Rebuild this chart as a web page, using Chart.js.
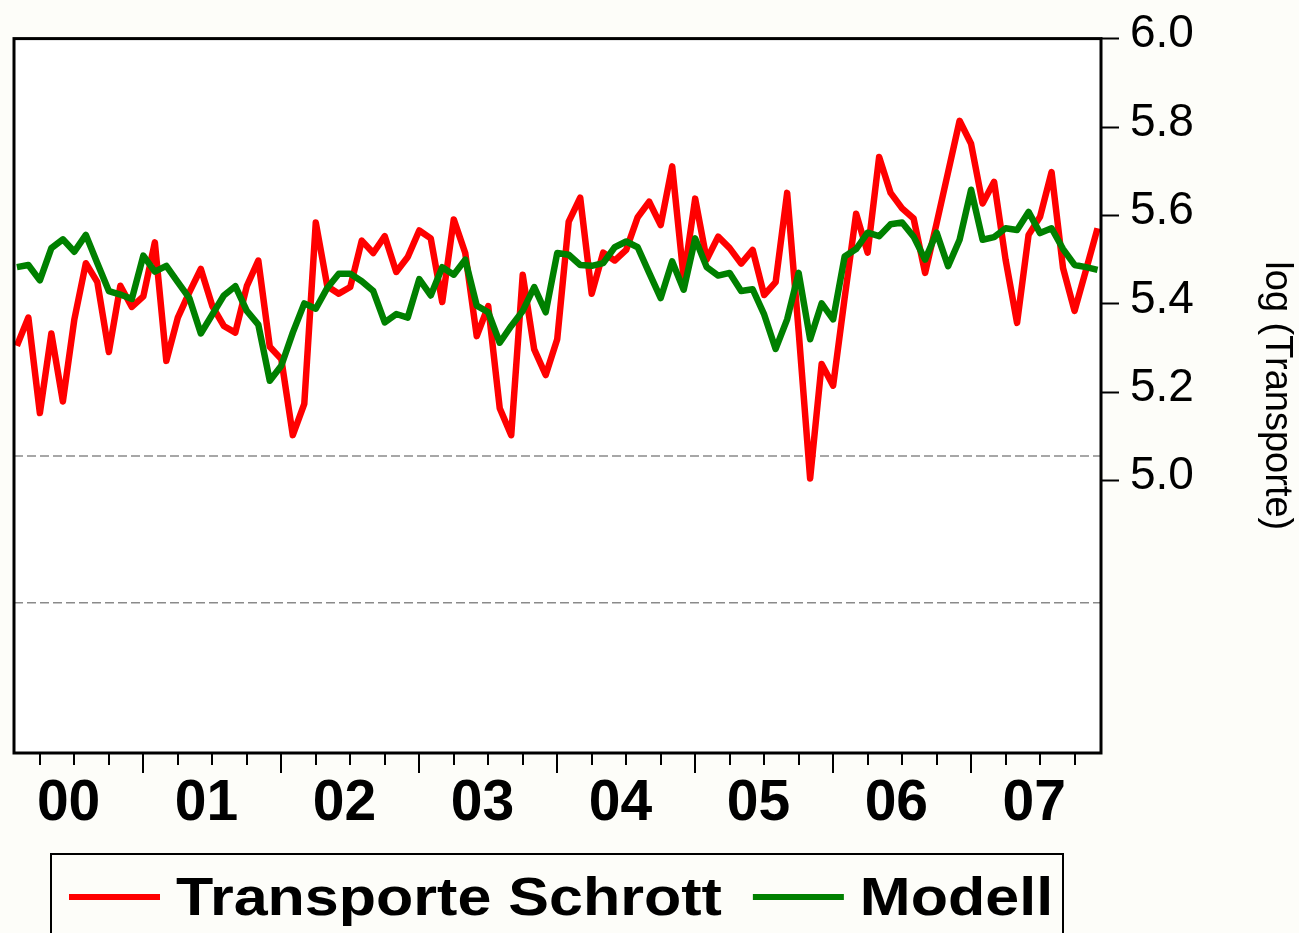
<!DOCTYPE html>
<html>
<head>
<meta charset="utf-8">
<script src="https://cdn.jsdelivr.net/npm/chart.js@4.4.1/dist/chart.umd.min.js"></script>
<style>
  html, body { margin: 0; padding: 0; background: #fdfdf9; }
  #wrap { width: 1299px; height: 933px; }
</style>
</head>
<body>
<div id="wrap"><canvas id="c" width="1299" height="933"></canvas></div>
<script>
// ---- data (monthly, 2000M02 .. 2007M12) ----
const startYear = 2000;
const startMonth = 2;

const transporteSchrott = [
  5.305, 5.369, 5.153, 5.333, 5.179, 5.365, 5.492, 5.449, 5.291, 5.441, 5.393,
  5.417, 5.539, 5.271, 5.369, 5.426, 5.479, 5.395, 5.350, 5.335, 5.440, 5.498, 5.303,
  5.275, 5.103, 5.174, 5.584, 5.440, 5.423, 5.438, 5.543, 5.515, 5.553, 5.472, 5.506,
  5.566, 5.548, 5.404, 5.591, 5.515, 5.327, 5.395, 5.164, 5.103, 5.466, 5.297, 5.239,
  5.320, 5.586, 5.640, 5.423, 5.516, 5.498, 5.522, 5.596, 5.631, 5.578, 5.711, 5.458,
  5.638, 5.500, 5.552, 5.526, 5.491, 5.522, 5.420, 5.449, 5.651, 5.338, 5.005, 5.264,
  5.215, 5.413, 5.604, 5.516, 5.732, 5.651, 5.616, 5.593, 5.470, 5.582, 5.698, 5.814,
  5.762, 5.627, 5.676, 5.500, 5.357, 5.556, 5.597, 5.698, 5.481, 5.384, 5.477, 5.571
];

const modell = [
  5.483, 5.488, 5.453, 5.526, 5.546, 5.518, 5.556, 5.492, 5.429, 5.421, 5.411,
  5.509, 5.473, 5.486, 5.449, 5.413, 5.333, 5.376, 5.419, 5.440, 5.384, 5.353, 5.226,
  5.260, 5.335, 5.401, 5.389, 5.436, 5.468, 5.468, 5.451, 5.429, 5.358, 5.377, 5.369,
  5.456, 5.419, 5.483, 5.466, 5.500, 5.396, 5.381, 5.312, 5.350, 5.384, 5.438, 5.381,
  5.515, 5.511, 5.488, 5.486, 5.492, 5.528, 5.541, 5.528, 5.470, 5.413, 5.496, 5.432,
  5.548, 5.483, 5.464, 5.470, 5.429, 5.433, 5.376, 5.298, 5.365, 5.470, 5.320, 5.401,
  5.365, 5.507, 5.524, 5.561, 5.553, 5.580, 5.584, 5.552, 5.500, 5.561, 5.485, 5.545,
  5.658, 5.545, 5.551, 5.571, 5.567, 5.608, 5.560, 5.571, 5.524, 5.488, 5.483, 5.477
];

const seriesNames = ['Transporte Schrott', 'Modell'];
const seriesColors = ['#ff0000', '#008000'];
const yearLabels = ['00', '01', '02', '03', '04', '05', '06', '07'];
const yTickValues = [5.0, 5.2, 5.4, 5.6, 5.8, 6.0];
const refLevels = [5.056, 4.724];
const yAxisTitle = 'log (Transporte)';
const yMin = 4.384, yMax = 6.0;

// ---- derived helpers ----
const n = transporteSchrott.length;
const xMin = -0.25, xMax = n - 1 + 0.3;
const monthOf = k => (startMonth - 1 + k) % 12 + 1;
// index of January of each labelled year, label sits at the year's centre
const yearCenters = yearLabels.map((_, i) => i * 12 - (startMonth - 1) + 5.5);
const quarterTicks = [];
for (let k = 0; k < n; k++) { if ((monthOf(k) - 1) % 3 === 0) quarterTicks.push(k); }

const toXY = arr => arr.map((v, i) => ({ x: i, y: v }));

const bgPlugin = {
  id: 'bg',
  beforeDraw(chart) {
    const { ctx, chartArea: a } = chart;
    ctx.save();
    ctx.fillStyle = '#fdfdf9';
    ctx.fillRect(0, 0, chart.width, chart.height);
    ctx.fillStyle = '#ffffff';
    ctx.fillRect(a.left, a.top, a.right - a.left, a.bottom - a.top);
    ctx.restore();
  }
};

const framePlugin = {
  id: 'frame',
  afterDatasetsDraw(chart) {
    const { ctx, chartArea: a, scales } = chart;
    ctx.save();
    ctx.strokeStyle = '#000';
    ctx.lineWidth = 3;
    ctx.strokeRect(a.left, a.top, a.right - a.left, a.bottom - a.top);
    // x tick marks: quarters short, years long
    ctx.lineWidth = 2;
    quarterTicks.forEach(k => {
      const px = Math.round(scales.x.getPixelForValue(k));
      const len = monthOf(k) === 1 ? 20 : 12;
      ctx.beginPath();
      ctx.moveTo(px, a.bottom);
      ctx.lineTo(px, a.bottom + len);
      ctx.stroke();
    });
    ctx.restore();
  },
  afterDraw(chart) {
    // legend box
    const { ctx, chartArea: a } = chart;
    const boxL = a.left + 37, boxT = a.bottom + 101, boxR = a.right - 38;
    ctx.save();
    ctx.strokeStyle = '#000';
    ctx.lineWidth = 2;
    ctx.strokeRect(boxL, boxT, boxR - boxL, 200);
    ctx.font = 'bold 54px "Liberation Sans", Arial, sans-serif';
    ctx.textBaseline = 'alphabetic';
    ctx.fillStyle = '#000';
    const stretch = 1.13;
    let x = boxL + 18;
    const yMid = boxT + 43;
    const base = boxT + 61;
    chart.data.datasets.slice(0, 2).forEach(ds => {
      ctx.strokeStyle = ds.borderColor;
      ctx.lineWidth = 6;
      ctx.beginPath();
      ctx.moveTo(x, yMid);
      ctx.lineTo(x + 91, yMid);
      ctx.stroke();
      x += 91 + 16;
      const w = ctx.measureText(ds.label).width * stretch;
      ctx.save();
      ctx.translate(x, base);
      ctx.scale(stretch, 1);
      ctx.fillText(ds.label, 0, 0);
      ctx.restore();
      x += w + 31;
    });
    ctx.restore();
  }
};

const datasets = [
  { label: seriesNames[0], data: toXY(transporteSchrott), borderColor: seriesColors[0],
    borderWidth: 6.5, pointRadius: 0, tension: 0, order: 2, borderJoinStyle: 'round', fill: false },
  { label: seriesNames[1], data: toXY(modell), borderColor: seriesColors[1],
    borderWidth: 6.5, pointRadius: 0, tension: 0, order: 1, borderJoinStyle: 'round', fill: false }
].concat(refLevels.map(v => ({
  label: '', data: [{ x: xMin, y: v }, { x: xMax, y: v }], borderColor: '#8a8a8a',
  borderWidth: 1.5, borderDash: [9, 4], pointRadius: 0, order: 3, fill: false
})));

new Chart(document.getElementById('c'), {
  type: 'line',
  data: { datasets },
  options: {
    responsive: false,
    animation: false,
    devicePixelRatio: 1,
    layout: { padding: { left: 14, top: 34, right: 0, bottom: 0 } },
    plugins: { legend: { display: false }, tooltip: { enabled: false } },
    scales: {
      x: {
        type: 'linear', position: 'bottom', min: xMin, max: xMax,
        afterBuildTicks: s => { s.ticks = yearCenters.map(v => ({ value: v })); },
        afterFit: s => { s.height = 180; },
        grid: { display: false, drawTicks: false },
        border: { display: false },
        ticks: {
          callback: (v, i) => yearLabels[i],
          font: { family: 'Liberation Sans', size: 57, weight: 'bold' },
          color: '#000', padding: 17, maxRotation: 0, autoSkip: false
        }
      },
      y: {
        position: 'right', min: yMin, max: yMax,
        afterBuildTicks: s => { s.ticks = yTickValues.map(v => ({ value: v })); },
        afterFit: s => { s.width = 198; },
        grid: { drawOnChartArea: false, drawTicks: true, tickLength: 18, tickWidth: 2, tickColor: '#000' },
        border: { display: false },
        ticks: {
          callback: v => Number(v).toFixed(1),
          font: { family: 'Liberation Sans', size: 46 },
          color: '#000', padding: 11, labelOffset: -4, autoSkip: false
        },
        title: {
          display: true, text: yAxisTitle, color: '#000', padding: 0,
          font: { family: 'Liberation Sans', size: 38 }
        }
      }
    }
  },
  plugins: [bgPlugin, framePlugin]
});
</script>
</body>
</html>
